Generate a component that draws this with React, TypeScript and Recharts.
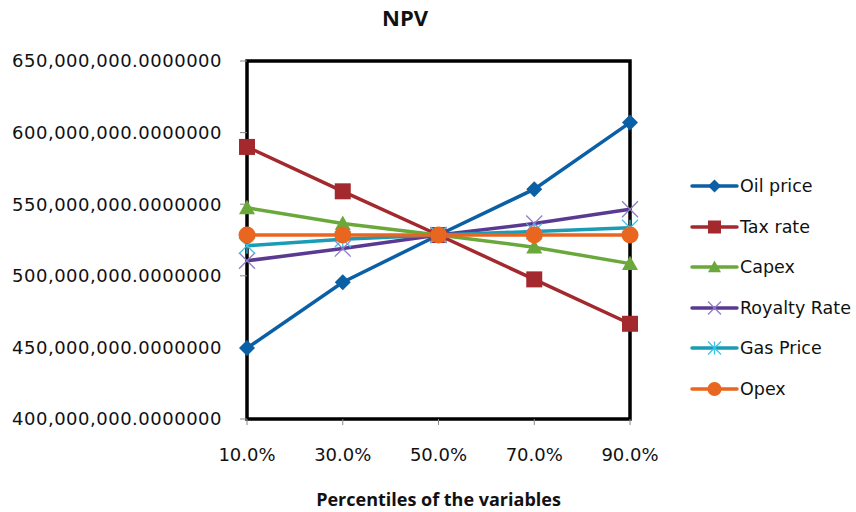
import { LineChart, Line, XAxis, YAxis, Legend, ReferenceArea } from 'recharts';

// NPV sensitivity, values in millions
const percentiles = ['10.0%', '30.0%', '50.0%', '70.0%', '90.0%'];
const oilPrice = [449.5, 495.5, 528.5, 560.5, 607];
const taxRate = [590, 559, 528.5, 497.5, 466.5];
const capex = [547.5, 536.5, 528.5, 520, 508.5];
const royaltyRate = [510.5, 519, 528.5, 536.5, 546.5];
const gasPrice = [521, 525.5, 528.5, 531, 533.5];
const opex = [528.5, 528.5, 528.5, 528.5, 528.5];
const yTicks = [400, 450, 500, 550, 600, 650];

type Shape = 'diamond' | 'square' | 'triangle' | 'cross' | 'star' | 'circle';

const series: { key: string; name: string; values: number[]; color: string; markColor: string; shape: Shape }[] = [
  { key: 'oil', name: 'Oil price', values: oilPrice, color: '#0B5FA5', markColor: '#0B5FA5', shape: 'diamond' },
  { key: 'tax', name: 'Tax rate', values: taxRate, color: '#A3292F', markColor: '#A3292F', shape: 'square' },
  { key: 'capex', name: 'Capex', values: capex, color: '#6BA83B', markColor: '#6BA83B', shape: 'triangle' },
  { key: 'royalty', name: 'Royalty Rate', values: royaltyRate, color: '#5A3A91', markColor: '#8D7CC6', shape: 'cross' },
  { key: 'gas', name: 'Gas Price', values: gasPrice, color: '#1A9CB6', markColor: '#3EC3E6', shape: 'star' },
  { key: 'opex', name: 'Opex', values: opex, color: '#E8661F', markColor: '#E8661F', shape: 'circle' },
];

const data = percentiles.map((p, i) => {
  const row: Record<string, string | number> = { p };
  series.forEach((s) => {
    row[s.key] = s.values[i] * 1e6;
  });
  return row;
});

const fmt = (v: number) =>
  v.toLocaleString('en-US', { minimumFractionDigits: 7, maximumFractionDigits: 7 });

function Marker({ shape, cx, cy, color, r = 8 }: { shape: Shape; cx: number; cy: number; color: string; r?: number }) {
  switch (shape) {
    case 'diamond':
      return <polygon points={`${cx},${cy - r} ${cx + r},${cy} ${cx},${cy + r} ${cx - r},${cy}`} fill={color} />;
    case 'square':
      return <rect x={cx - r} y={cy - r} width={r * 2} height={r * 2} fill={color} />;
    case 'triangle':
      return <polygon points={`${cx},${cy - r} ${cx + r},${cy + r * 0.8} ${cx - r},${cy + r * 0.8}`} fill={color} />;
    case 'cross':
      return (
        <g stroke={color} strokeWidth={1.3}>
          <line x1={cx - r} y1={cy - r} x2={cx + r} y2={cy + r} />
          <line x1={cx - r} y1={cy + r} x2={cx + r} y2={cy - r} />
        </g>
      );
    case 'star':
      return (
        <g stroke={color} strokeWidth={1.3}>
          <line x1={cx - r} y1={cy - r} x2={cx + r} y2={cy + r} />
          <line x1={cx - r} y1={cy + r} x2={cx + r} y2={cy - r} />
          <line x1={cx} y1={cy - r} x2={cx} y2={cy + r} />
        </g>
      );
    default:
      return <circle cx={cx} cy={cy} r={r + 0.5} fill={color} />;
  }
}

function LegendBox() {
  return (
    <div style={{ fontFamily: 'DejaVu Sans', fontSize: 17.5, color: '#111' }}>
      {series.map((s) => (
        <div key={s.key} style={{ height: 40.5, display: 'flex', alignItems: 'center' }}>
          <svg width={50} height={20}>
            <line x1={2} y1={10} x2={47} y2={10} stroke={s.color} strokeWidth={3.5} strokeLinecap="round" />
            <Marker shape={s.shape} cx={24.5} cy={10} color={s.markColor} r={6.5} />
          </svg>
          <span>{s.name}</span>
        </div>
      ))}
    </div>
  );
}

export default function App() {
  return (
    <div style={{ position: 'relative', width: 856, height: 512, background: '#fff' }}>
      <style>{'body{margin:0}'}</style>
      <div
        style={{
          position: 'absolute',
          top: 2,
          left: 360,
          width: 90,
          textAlign: 'center',
          fontFamily: 'Open Sans',
          fontWeight: 700,
          fontSize: 22,
          color: '#111',
        }}
      >
        NPV
      </div>
      <LineChart width={856} height={512} data={data} margin={{ top: 61, right: 60, bottom: 0, left: 0 }}>
        <ReferenceArea
          x1="10.0%"
          x2="90.0%"
          y1={400e6}
          y2={650e6}
          fill="none"
          stroke="#000"
          strokeWidth={3.5}
          ifOverflow="visible"
        />
        <XAxis
          dataKey="p"
          height={93}
          axisLine={false}
          tickLine={{ stroke: '#888' }}
          tickSize={6}
          tickMargin={23}
          tick={{ fontFamily: 'DejaVu Sans', fontSize: 18, fill: '#111' }}
          label={{
            value: 'Percentiles of the variables',
            position: 'insideBottom',
            offset: 6,
            style: { fontFamily: 'Open Sans', fontWeight: 700, fontSize: 18, fill: '#111' },
          }}
        />
        <YAxis
          width={247}
          domain={[400e6, 650e6]}
          ticks={yTicks.map((t) => t * 1e6)}
          tickFormatter={fmt}
          axisLine={false}
          tickLine={{ stroke: '#888' }}
          tickSize={7}
          tickMargin={18}
          tick={{ fontFamily: 'DejaVu Sans', fontSize: 18, fill: '#111', letterSpacing: 0.5 }}
        />
        <Legend
          layout="vertical"
          align="right"
          verticalAlign="top"
          content={() => <LegendBox />}
          wrapperStyle={{ top: 165.75, right: 0, width: 166 }}
        />
        {series.map((s) => (
          <Line
            key={s.key}
            dataKey={s.key}
            name={s.name}
            stroke={s.color}
            strokeWidth={3.5}
            isAnimationActive={false}
            activeDot={false}
            dot={(props: any) => (
              <Marker key={`${s.key}-${props.index}`} shape={s.shape} cx={props.cx} cy={props.cy} color={s.markColor} />
            )}
          />
        ))}
      </LineChart>
    </div>
  );
}
